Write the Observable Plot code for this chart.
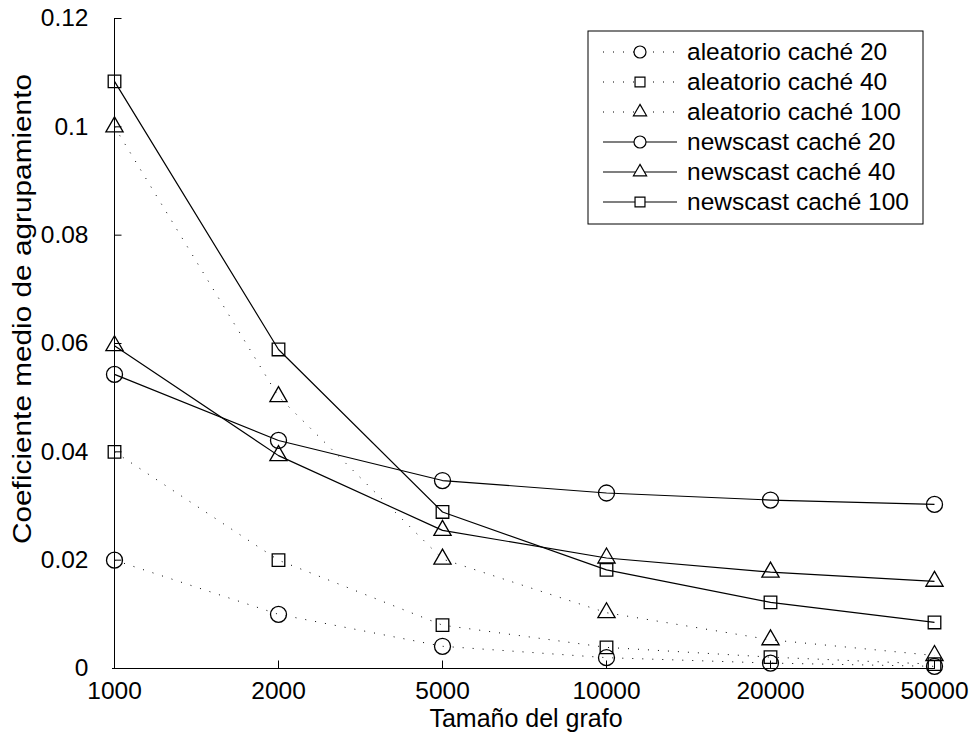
<!DOCTYPE html>
<html><head><meta charset="utf-8">
<script src="https://cdn.jsdelivr.net/npm/d3@7"></script>
<script src="https://cdn.jsdelivr.net/npm/@observablehq/plot@0.6"></script>
<style>
html,body{margin:0;padding:0;background:#fff;}
#chart{width:977px;height:736px;}
svg text{font-family:"Liberation Sans",Arial,sans-serif;}
</style></head><body><div id="chart"></div>
<script>
// ---- data ----
const sizes = ["1000", "2000", "5000", "10000", "20000", "50000"];
const aleatorio20  = [0.0200, 0.0100, 0.0041, 0.0020, 0.0010, 0.0004];
const aleatorio40  = [0.0400, 0.0200, 0.0080, 0.0039, 0.0021, 0.0008];
const aleatorio100 = [0.1000, 0.0502, 0.0202, 0.0103, 0.0053, 0.0024];
const newscast20   = [0.0543, 0.0421, 0.0347, 0.0324, 0.0311, 0.0303];
const newscast40   = [0.0596, 0.0393, 0.0255, 0.0204, 0.0178, 0.0161];
const newscast100  = [0.1084, 0.0589, 0.0289, 0.0182, 0.0122, 0.0085];
const seriesNames = ["aleatorio caché 20", "aleatorio caché 40", "aleatorio caché 100",
                     "newscast caché 20", "newscast caché 40", "newscast caché 100"];
const seriesValues = [aleatorio20, aleatorio40, aleatorio100, newscast20, newscast40, newscast100];
const seriesSymbols = ["circle", "square", "triangle", "circle", "triangle", "square"];
const seriesDotted = [true, true, true, false, false, false];
const yTicks = [0, 0.02, 0.04, 0.06, 0.08, 0.1, 0.12];
const xLabel = "Tamaño del grafo";
const yLabel = "Coeficiente medio de agrupamiento";

// ---- styles ----
const FS = 24.5;
const symbolR = {circle: 8, square: 7.1, triangle: 6.4};
const legendR = {circle: 6, square: 5.6, triangle: 4.9};
const tickRight = {draw(ctx) { ctx.moveTo(0, 0); ctx.lineTo(7, 0); }};
const tickUp = {draw(ctx) { ctx.moveTo(0, 0); ctx.lineTo(0, -8); }};

const marks = [
  Plot.ruleX([sizes[0]], {stroke: "black", strokeWidth: 1}),
  Plot.ruleY([0], {stroke: "black", strokeWidth: 1}),
  Plot.dot(yTicks, {x: () => sizes[0], y: d => d, symbol: tickRight, stroke: "black", strokeWidth: 1, r: 3}),
  Plot.dot(sizes.slice(1), {x: d => d, y: () => 0, symbol: tickUp, stroke: "black", strokeWidth: 1, r: 3}),
  Plot.axisY(yTicks, {tickSize: 0, tickPadding: 24, label: null, tickFormat: d => String(d), fontSize: FS, fill: "black"}),
  Plot.axisX(sizes, {tickSize: 0, tickPadding: 13, label: null, fontSize: FS, fill: "black"})
];

seriesNames.forEach((name, k) => {
  const rows = sizes.map((s, i) => ({x: s, y: seriesValues[k][i]}));
  marks.push(Plot.line(rows, {
    x: "x", y: "y", stroke: "black",
    strokeWidth: seriesDotted[k] ? 1 : 1.2,
    strokeDasharray: seriesDotted[k] ? "1 9" : null,
    strokeLinecap: "butt"
  }));
  marks.push(Plot.dot(rows, {
    x: "x", y: "y", symbol: seriesSymbols[k], r: symbolR[seriesSymbols[k]],
    stroke: "black", strokeWidth: 1.3, fill: "none"
  }));
});

const chart = Plot.plot({
  width: 977, height: 736,
  marginLeft: 112, marginRight: 42, marginTop: 18, marginBottom: 68,
  style: {fontFamily: "Liberation Sans, Arial, sans-serif", fontSize: FS + "px", color: "black", background: "white"},
  x: {type: "point", domain: sizes, padding: 0, axis: null},
  y: {domain: [0, 0.12], axis: null},
  marks
});
document.getElementById("chart").appendChild(chart);

const svg = d3.select(chart);

// axis titles
svg.append("text")
  .attr("x", 526).attr("y", 727)
  .attr("text-anchor", "middle")
  .attr("font-size", 25).attr("fill", "black")
  .text(xLabel);

svg.append("text")
  .attr("transform", "translate(31,309) rotate(-90)")
  .attr("text-anchor", "middle")
  .attr("font-size", 25).attr("fill", "black")
  .attr("textLength", 470).attr("lengthAdjust", "spacingAndGlyphs")
  .text(yLabel);

// legend
const lg = svg.append("g").attr("text-anchor", "start");
lg.append("rect").attr("x", 588).attr("y", 31).attr("width", 335).attr("height", 193)
  .attr("fill", "white").attr("stroke", "black").attr("stroke-width", 1);
seriesNames.forEach((name, k) => {
  const yy = 52 + 30 * k;
  const ln = lg.append("line").attr("x1", 603).attr("x2", 677).attr("y1", yy).attr("y2", yy)
    .attr("stroke", "black").attr("stroke-width", seriesDotted[k] ? 1 : 1.2);
  if (seriesDotted[k]) ln.attr("stroke-dasharray", "1 9");
  const sym = {circle: d3.symbolCircle, square: d3.symbolSquare, triangle: d3.symbolTriangle}[seriesSymbols[k]];
  const rr = legendR[seriesSymbols[k]];
  lg.append("path").attr("d", d3.symbol(sym, Math.PI * rr * rr)())
    .attr("transform", `translate(640,${yy})`)
    .attr("fill", "white").attr("stroke", "black").attr("stroke-width", 1.2);
  lg.append("text").attr("x", 687).attr("y", yy + 7.5)
    .attr("text-anchor", "start")
    .attr("font-size", FS).attr("fill", "black")
    .text(name);
});
</script></body></html>
